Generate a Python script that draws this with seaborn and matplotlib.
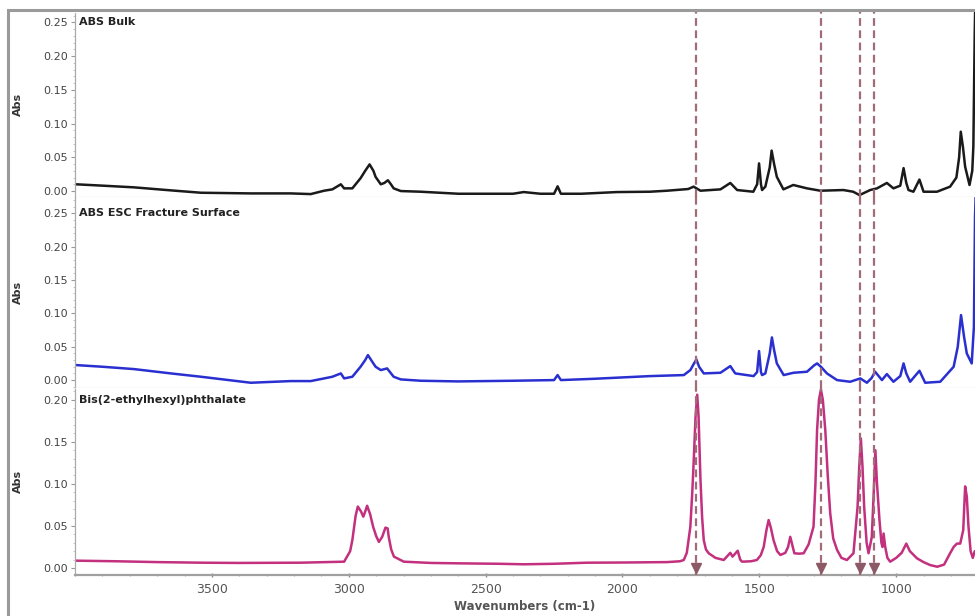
import matplotlib
matplotlib.use("Agg")
import matplotlib.pyplot as plt
import seaborn as sns
from matplotlib.patches import Rectangle
from matplotlib.ticker import MultipleLocator

# spectra (wavenumber cm-1, absorbance)
bulk_wn = [3996, 3900, 3785, 3650, 3540, 3358, 3212, 3139, 3090, 3060, 3029, 3017, 2987, 2957,
           2940, 2924, 2910, 2902, 2883, 2870, 2857, 2846, 2836, 2810, 2737, 2600, 2400, 2361,
           2300, 2250, 2237, 2225, 2150, 2020, 1900, 1837, 1760, 1740, 1715, 1642, 1606, 1581,
           1522, 1508, 1501, 1494, 1490, 1478, 1462, 1455, 1446, 1436, 1412, 1376, 1326, 1277,
           1193, 1157, 1134, 1095, 1070, 1034, 1010, 985, 973, 963, 955, 937, 915, 900, 851,
           803, 780, 770, 764, 756, 748, 732, 722, 718, 713, 710]
bulk_abs = [0.010, 0.008, 0.0055, 0.001, -0.0025, -0.0035, -0.0035, -0.0045, 0.0005, 0.0025,
            0.010, 0.004, 0.004, 0.019, 0.030, 0.0395, 0.030, 0.021, 0.010, 0.012, 0.016, 0.010,
            0.004, 0.0, -0.001, -0.004, -0.004, -0.0015, -0.004, -0.004, 0.007, -0.004, -0.004,
            -0.0015, -0.001, 0.0005, 0.003, 0.0065, 0.0005, 0.0025, 0.012, 0.0015, -0.001,
            0.010, 0.041, 0.010, 0.0015, 0.0065, 0.035, 0.060, 0.040, 0.021, 0.0025, 0.009,
            0.004, 0.0005, 0.0015, -0.001, -0.006, 0.0015, 0.004, 0.012, 0.004, 0.008, 0.034,
            0.012, 0.0015, -0.001, 0.017, -0.001, -0.001, 0.0065, 0.020, 0.050, 0.088, 0.065,
            0.036, 0.009, 0.030, 0.066, 0.234, 0.30]

esc_wn = [3996, 3900, 3785, 3650, 3540, 3358, 3212, 3139, 3090, 3060, 3029, 3017, 2987, 2957,
          2940, 2930, 2915, 2902, 2883, 2860, 2836, 2810, 2737, 2600, 2400, 2250, 2237, 2225,
          2100, 2000, 1898, 1776, 1752, 1740, 1730, 1720, 1703, 1642, 1606, 1588, 1521, 1508,
          1501, 1494, 1490, 1478, 1462, 1454, 1446, 1436, 1411, 1375, 1326, 1300, 1289, 1275,
          1253, 1216, 1168, 1131, 1107, 1090, 1077, 1052, 1034, 1010, 985, 973, 963, 949, 915,
          894, 839, 790, 775, 763, 752, 742, 724, 716, 712, 708]
esc_abs = [0.0225, 0.020, 0.0165, 0.010, 0.005, -0.004, -0.0015, -0.0015, 0.0025, 0.005,
           0.010, 0.0025, 0.005, 0.020, 0.030, 0.0375, 0.028, 0.020, 0.015, 0.0175, 0.005,
           0.001, -0.001, -0.002, -0.001, 0.0, 0.0075, 0.0, 0.002, 0.004, 0.006, 0.0075, 0.015,
           0.024, 0.031, 0.020, 0.010, 0.011, 0.021, 0.010, 0.006, 0.012, 0.0435, 0.012, 0.0075,
           0.010, 0.040, 0.064, 0.045, 0.025, 0.0075, 0.011, 0.0125, 0.022, 0.025, 0.020,
           0.010, 0.0, -0.0025, 0.0025, -0.004, 0.003, 0.0125, 0.0, 0.009, -0.0025, 0.006,
           0.025, 0.010, -0.0025, 0.014, -0.004, -0.0025, 0.020, 0.050, 0.0975, 0.065, 0.040,
           0.025, 0.08, 0.243, 0.30]

dehp_wn = [3996, 3850, 3700, 3540, 3400, 3175, 3017, 2995, 2987, 2975, 2967, 2955, 2947, 2940,
           2933, 2922, 2911, 2900, 2890, 2878, 2866, 2858, 2854, 2845, 2835, 2799, 2700, 2591,
           2450, 2360, 2250, 2129, 2000, 1837, 1790, 1776, 1765, 1752, 1745, 1740, 1733, 1727,
           1722, 1715, 1709, 1703, 1695, 1685, 1660, 1630, 1606, 1598, 1579, 1570, 1563, 1530,
           1509, 1495, 1484, 1474, 1466, 1458, 1448, 1435, 1423, 1405, 1395, 1387, 1380, 1372,
           1355, 1338, 1320, 1302, 1295, 1289, 1282, 1275, 1268, 1259, 1250, 1241, 1230, 1216,
           1200, 1180, 1156, 1141, 1135, 1129, 1123, 1117, 1108, 1101, 1089, 1082, 1076, 1070,
           1061, 1054, 1050, 1046, 1040, 1032, 1022, 1000, 980, 963, 950, 924, 900, 876, 850,
           825, 803, 790, 778, 766, 755, 748, 742, 736, 728, 720, 713]
dehp_abs = [0.0087, 0.008, 0.007, 0.0063, 0.006, 0.0063, 0.0075, 0.020, 0.033, 0.062, 0.073,
            0.067, 0.061, 0.067, 0.074, 0.064, 0.049, 0.038, 0.031, 0.037, 0.048, 0.047, 0.037,
            0.022, 0.0135, 0.0075, 0.006, 0.0055, 0.005, 0.0044, 0.005, 0.0063, 0.0065, 0.007,
            0.008, 0.0095, 0.018, 0.049, 0.090, 0.125, 0.180, 0.206, 0.180, 0.105, 0.060,
            0.033, 0.022, 0.0175, 0.012, 0.0095, 0.018, 0.0135, 0.0205, 0.010, 0.0075, 0.008,
            0.0095, 0.015, 0.025, 0.045, 0.057, 0.048, 0.033, 0.020, 0.0155, 0.018, 0.025,
            0.037, 0.028, 0.0175, 0.017, 0.0175, 0.028, 0.049, 0.100, 0.164, 0.200, 0.212,
            0.200, 0.164, 0.110, 0.065, 0.035, 0.0215, 0.012, 0.0095, 0.0175, 0.073, 0.120,
            0.154, 0.120, 0.073, 0.030, 0.0175, 0.037, 0.090, 0.140, 0.100, 0.057, 0.030, 0.025,
            0.041, 0.025, 0.012, 0.0075, 0.012, 0.018, 0.029, 0.020, 0.0115, 0.007, 0.0035,
            0.0015, 0.004, 0.0175, 0.025, 0.029, 0.029, 0.045, 0.097, 0.085, 0.050, 0.020,
            0.012, 0.020]

# phthalate bands flagged with dashed lines
marker_wn = [1730, 1275, 1133, 1081]

titles = ["ABS Bulk", "ABS ESC Fracture Surface", "Bis(2-ethylhexyl)phthalate"]
title_y = [0.25, 0.25, 0.20]
colors = ["#1a1a1a", "#2a2fd0", "#c2307e"]
ylims = [(-0.009, 0.265), (-0.012, 0.2745), (-0.0083, 0.214)]
ytick_max = [0.25, 0.25, 0.20]

sns.set_theme(style="white")
plt.rcParams["font.family"] = ["DejaVu Sans"]

fig = plt.figure(figsize=(9.75, 6.16), dpi=100)
# panel rectangles in figure fractions (left, bottom, width, height)
boxes = [(0.077, 0.680, 0.923, 0.300),
         (0.077, 0.370, 0.923, 0.310),
         (0.077, 0.0666, 0.923, 0.3036)]
series = [(bulk_wn, bulk_abs), (esc_wn, esc_abs), (dehp_wn, dehp_abs)]

axes = []
for i, box in enumerate(boxes):
    ax = fig.add_axes(box)
    axes.append(ax)
    wn, ab = series[i]
    sns.lineplot(x=wn, y=ab, ax=ax, color=colors[i], lw=1.8, estimator=None, sort=False)
    ax.set_xlim(4000, 712)
    ax.set_ylim(*ylims[i])
    ax.yaxis.set_minor_locator(MultipleLocator(0.01))
    ax.set_yticks([t * 0.05 for t in range(int(round(ytick_max[i] / 0.05)) + 1)])
    ax.yaxis.set_major_formatter(matplotlib.ticker.FormatStrFormatter("%.2f"))
    ax.tick_params(axis="y", which="major", left=True, length=3, width=0.8, color="#999999",
                   labelsize=8, labelcolor="#444444", pad=2)
    ax.tick_params(axis="y", which="minor", left=True, length=1.5, width=0.6, color="#bbbbbb")
    ax.set_ylabel("Abs", fontsize=8, fontweight="bold", color="#333333")
    ax.yaxis.set_label_coords(-0.058, 0.5)
    for s in ["top", "right"]:
        ax.spines[s].set_visible(False)
    ax.spines["left"].set_color("#aaaaaa")
    ax.spines["left"].set_linestyle((0, (1, 1)))
    ax.spines["left"].set_linewidth(0.9)
    ax.text(0.004, title_y[i], titles[i], transform=ax.get_yaxis_transform(),
            ha="left", va="center", fontsize=8, fontweight="bold", color="#222222")
    for w in marker_wn:
        ax.axvline(w, color="#a06c78", lw=1.6, ls=(0, (3.5, 2)), zorder=3)
    if i < 2:
        ax.spines["bottom"].set_color("#e4e4e4")
        ax.spines["bottom"].set_linewidth(1.0)
        ax.set_xticks([])
        ax.set_xlabel("")

ax3 = axes[2]
ax3.xaxis.set_minor_locator(MultipleLocator(100))
ax3.set_xticks([3500, 3000, 2500, 2000, 1500, 1000])
ax3.spines["bottom"].set_color("#a0a0a0")
ax3.spines["bottom"].set_linewidth(1.6)
ax3.tick_params(axis="x", which="major", bottom=True, length=3, width=1.0, color="#888888",
                direction="inout", labelsize=9, labelcolor="#555555", pad=4)
ax3.tick_params(axis="x", which="minor", bottom=True, length=2, width=0.8, color="#aaaaaa",
                direction="inout")
ax3.set_xlabel("Wavenumbers (cm-1)", fontsize=8.5, fontweight="bold", color="#555555",
               labelpad=3)
# arrow heads at the bottom of the dashed markers
ax3.plot(marker_wn, [0.0] * len(marker_wn), "v", color="#8c5a66", markersize=7,
         zorder=4, clip_on=False)

# grey outer frame of the original screenshot
fig.patches.append(Rectangle((8 / 975, -0.1), 1.2, (606 / 616) + 0.1, transform=fig.transFigure,
                             fill=False, edgecolor="#9a9a9a", lw=2.2))

fig.savefig("out.png", dpi=100)
